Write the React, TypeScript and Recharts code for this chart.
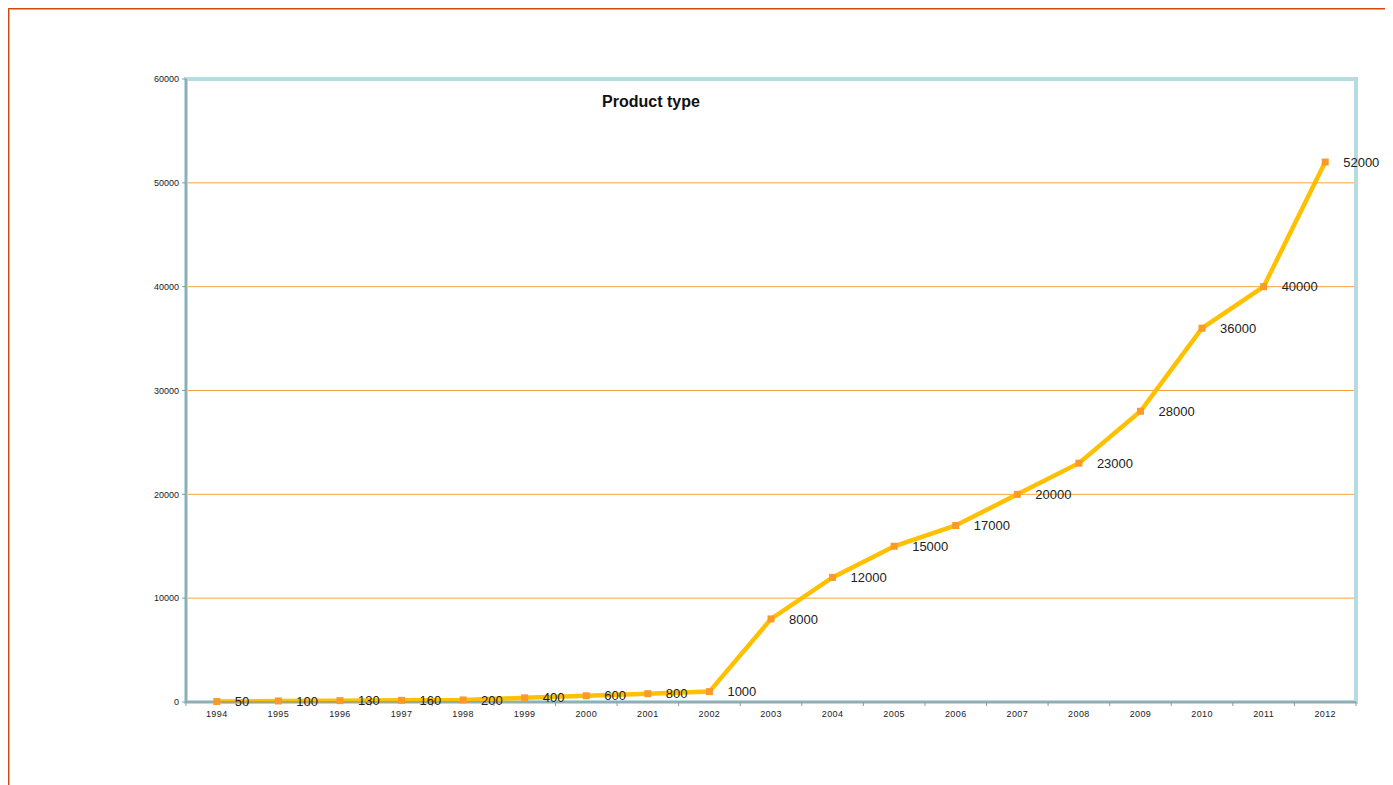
import React from "react";
import { LineChart, Line, XAxis, YAxis, CartesianGrid, ReferenceArea, LabelList } from "recharts";

const years = [1994, 1995, 1996, 1997, 1998, 1999, 2000, 2001, 2002, 2003, 2004, 2005, 2006, 2007, 2008, 2009, 2010, 2011, 2012];
const values = [50, 100, 130, 160, 200, 400, 600, 800, 1000, 8000, 12000, 15000, 17000, 20000, 23000, 28000, 36000, 40000, 52000];
const yTicks = [0, 10000, 20000, 30000, 40000, 50000, 60000];
const title = "Product type";

const data = years.map((year, i) => ({ year, value: values[i] }));
const boundaries = [...years.map((y) => y - 0.5), years[years.length - 1] + 0.5];
const xTicks = [...years, ...boundaries];
const xDomain = [boundaries[0], boundaries[boundaries.length - 1]];

const FONT = "'Liberation Sans', Arial, sans-serif";

const XTick = (props: any) => {
  const { x, y, payload } = props;
  const v = payload.value;
  if (Number.isInteger(v)) {
    return (
      <text x={x} y={y + 9} dy="0.71em" textAnchor="middle" fontSize={9} letterSpacing={0.4} fill="#222" fontFamily={FONT}>
        {v}
      </text>
    );
  }
  return <line x1={x} x2={x} y1={y} y2={y + 4} stroke="#8a9ca1" strokeWidth={1} />;
};

const SquareDot = (props: any) => {
  const { cx, cy } = props;
  if (cx == null || cy == null) return null;
  return <rect x={cx - 3.5} y={cy - 3.5} width={7} height={7} fill="#fb9a28" />;
};

export default function App() {
  return (
    <div style={{ position: "relative", width: 1377, height: 777 }}>
      <style>{"html,body{overflow:hidden}"}</style>
      <div
        style={{
          position: "absolute",
          left: -1,
          top: -1,
          width: 1420,
          height: 820,
          borderTop: "2px solid #cf4a12",
          borderLeft: "2px solid #cf4a12",
          boxShadow: "inset 1px 1px 0 #f0a07a",
          boxSizing: "border-box",
        }}
      />
      <div
        style={{
          position: "absolute",
          left: 543,
          top: 85,
          width: 200,
          textAlign: "center",
          fontFamily: FONT,
          fontWeight: "bold",
          fontSize: 16,
          color: "#111",
          zIndex: 2,
        }}
      >
        {title}
      </div>
      <div style={{ position: "absolute", left: 0, top: 0 }}>
        <LineChart
          width={1377}
          height={777}
          data={data}
          margin={{ top: 71, right: 29, bottom: 53, left: 118 }}
        >
          <CartesianGrid vertical={false} stroke="#f7a440" strokeWidth={1} />
          <ReferenceArea
            x1={xDomain[0]}
            x2={xDomain[1]}
            y1={0}
            y2={60000}
            stroke="#b6dce1"
            strokeWidth={4}
            fill="none"
            fillOpacity={0}
          />
          <XAxis
            dataKey="year"
            type="number"
            domain={xDomain}
            ticks={xTicks}
            interval={0}
            tickSize={0}
            tickMargin={0}
            tickLine={false}
            tick={<XTick />}
            axisLine={{ stroke: "#8a9ca1", strokeWidth: 1.5 }}
            height={30}
            allowDataOverflow
          />
          <YAxis
            domain={[0, 60000]}
            ticks={yTicks}
            interval={0}
            width={60}
            tickSize={4}
            tickMargin={3}
            tick={{ fontSize: 9, fill: "#222", fontFamily: FONT }}
            tickLine={{ stroke: "#8a9ca1" }}
            axisLine={{ stroke: "#8a9ca1", strokeWidth: 1.5 }}
          />
          <Line
            dataKey="value"
            stroke="#ffc000"
            strokeWidth={4.5}
            dot={<SquareDot />}
            activeDot={false}
            isAnimationActive={false}
          >
            <LabelList
              dataKey="value"
              position="right"
              offset={18}
              fontSize={13}
              fill="#222"
              fontFamily={FONT}
            />
          </Line>
        </LineChart>
      </div>
    </div>
  );
}
